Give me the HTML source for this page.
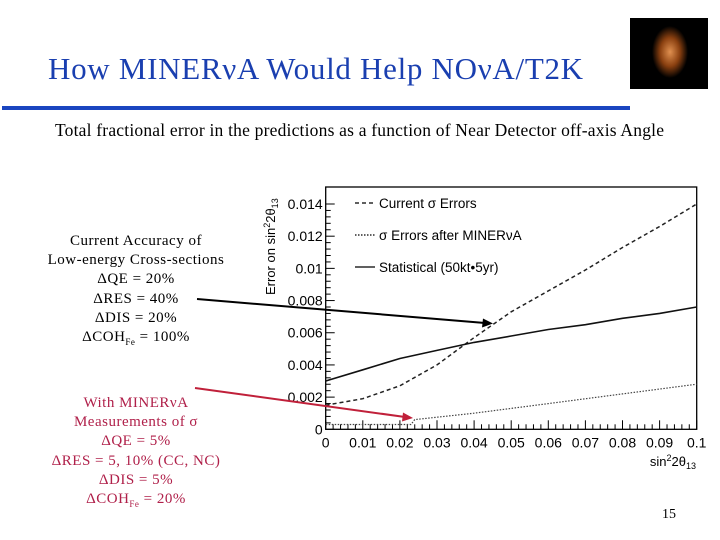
<!DOCTYPE html>
<html><head><meta charset="utf-8"><style>
body{margin:0;width:720px;height:540px;background:#fff;overflow:hidden;position:relative;font-family:"Liberation Serif",serif}
.t{position:absolute}
</style></head><body>
<div class="t" style="left:48px;top:51px;font-size:31px;letter-spacing:0.7px;color:#1a3fb0;white-space:nowrap">How MINERνA Would Help NOνA/T2K</div>
<div class="t" style="left:2px;top:106px;width:628px;height:4px;background:#1a45c0"></div>
<div class="t" style="left:630px;top:18px;width:78px;height:71px;background:radial-gradient(ellipse 18px 26px at 40px 34px,#e09050 0%,#8a4010 55%,#000 100%)"></div>
<div class="t" style="left:55px;top:120px;font-size:17.5px;letter-spacing:0.2px;white-space:nowrap">Total fractional error in the predictions as a function of Near Detector off-axis Angle</div>
<div class="t" style="left:662px;top:507px;font-size:14px">15</div>
<div class="t" style="left:26px;top:232px;width:220px;text-align:center;font-size:15px;letter-spacing:0.5px;line-height:19.2px;color:#000">Current Accuracy of<br>Low-energy Cross-sections<br>ΔQE = 20%<br>ΔRES = 40%<br>ΔDIS = 20%<br>ΔCOH<sub style="font-size:9px;line-height:0">Fe</sub> = 100%</div>
<div class="t" style="left:26px;top:394px;width:220px;text-align:center;font-size:15px;letter-spacing:0.5px;line-height:19.2px;color:#b0204a">With MINERνA<br>Measurements of σ<br>ΔQE = 5%<br>ΔRES = 5, 10% (CC, NC)<br>ΔDIS = 5%<br>ΔCOH<sub style="font-size:9px;line-height:0">Fe</sub> = 20%</div>
<svg id="chart" class="t" style="left:0;top:0" width="720" height="540"></svg>
<script>
const xVals=[0,0.01,0.02,0.03,0.04,0.05,0.06,0.07,0.08,0.09,0.1];
const currentErr=[0.0015,0.0019,0.0027,0.0040,0.0057,0.0073,0.0086,0.0099,0.0113,0.0126,0.0140];
const statErr=[0.0030,0.0037,0.0044,0.0049,0.0054,0.0058,0.0062,0.0065,0.0069,0.0072,0.0076];
const afterX=[0,0.023,0.024,0.04,0.06,0.08,0.1];
const afterErr=[0.0003,0.0003,0.0006,0.0010,0.0016,0.0022,0.0028];
const yTicks=[0,0.002,0.004,0.006,0.008,0.01,0.012,0.014];
const yLabels=["0","0.002","0.004","0.006","0.008","0.01","0.012","0.014"];
const xTicks=[0,0.01,0.02,0.03,0.04,0.05,0.06,0.07,0.08,0.09,0.1];
const xLabels=["0","0.01","0.02","0.03","0.04","0.05","0.06","0.07","0.08","0.09","0.1"];
const L=325.7,R=696.7,T=187,B=429.3;
const sx=v=>L+(v/0.1)*(R-L);
const sy=v=>B-(v/0.014)*(B-204);
const svg=document.getElementById('chart');const NS='http://www.w3.org/2000/svg';
function mk(tag,attrs,parent){const e=document.createElementNS(NS,tag);for(const k in attrs)e.setAttribute(k,attrs[k]);(parent||svg).appendChild(e);return e;}
const F='"Liberation Sans",sans-serif';
let fr=mk('rect',{x:L,y:T,width:R-L,height:B-T,fill:'none',stroke:'#000','stroke-width':1.3});


yTicks.forEach((v,i)=>{
 let tk=mk('line',{x1:L,x2:L+9,y1:sy(v),y2:sy(v),stroke:'#000'});
 
 
 if(i<yTicks.length-1)for(let j=1;j<5;j++){let m=mk('line',{x1:L,x2:L+5,y1:sy(v+j*0.0004),y2:sy(v+j*0.0004),stroke:'#000'});}
 let t=mk('text',{x:L-3,y:sy(v)+5,'text-anchor':'end','font-size':14,'font-family':F});t.textContent=yLabels[i];
 
 
});
xTicks.forEach((v,i)=>{
 let tk=mk('line',{x1:sx(v),x2:sx(v),y1:B,y2:B-9,stroke:'#000'});
 
 
 if(i<xTicks.length-1)for(let j=1;j<5;j++){let m=mk('line',{x1:sx(v+j*0.002),x2:sx(v+j*0.002),y1:B,y2:B-5,stroke:'#000'});}
 let t=mk('text',{x:sx(v),y:B+18,'text-anchor':'middle','font-size':14,'font-family':F});t.textContent=xLabels[i];
 
 
});
let xt=mk('text',{x:696,y:466,'text-anchor':'end','font-size':13,'font-family':F});xt.innerHTML='sin<tspan dy="-5" font-size="9">2</tspan><tspan dy="5">2θ</tspan><tspan dy="3" font-size="9">13</tspan>';


let yt=mk('text',{transform:'translate(275,295) rotate(-90)','font-size':13,'font-family':F});yt.innerHTML='Error on sin<tspan dy="-5" font-size="9">2</tspan><tspan dy="5">2θ</tspan><tspan dy="3" font-size="9">13</tspan>';


function path(xs,ys){return xs.map((x,i)=>(i?'L':'M')+sx(x).toFixed(1)+','+sy(ys[i]).toFixed(1)).join(' ');}
let p1=mk('path',{d:path(xVals,currentErr),fill:'none',stroke:'#222','stroke-width':1.5,'stroke-dasharray':'4,3'});


let p2=mk('path',{d:path(xVals,statErr),fill:'none',stroke:'#111','stroke-width':1.6});


let p3=mk('path',{d:path(afterX,afterErr),fill:'none',stroke:'#444','stroke-width':1.2,'stroke-dasharray':'1.5,1.5'});


const leg=[['4,3','Current σ Errors',204],['1.5,1.5','σ Errors after MINERνA',236],['','Statistical (50kt•5yr)',268]];
leg.forEach(l=>{
 let ln=mk('line',{x1:355,x2:375,y1:l[2]-1,y2:l[2]-1,stroke:'#000','stroke-width':1.2,'stroke-dasharray':l[0]||'none'});
 
 
 let t=mk('text',{x:379,y:l[2]+4,'font-size':13.5,'font-family':F});t.textContent=l[1];
 
 
});
let a1=mk('line',{x1:197,y1:299,x2:485,y2:323,stroke:'#000','stroke-width':2});


let h1=mk('polygon',{points:'493,323.5 483,318.5 482,327.5',fill:'#000'});


let a2=mk('line',{x1:195,y1:388,x2:405,y2:417,stroke:'#c0203a','stroke-width':2});


let h2=mk('polygon',{points:'413,418 403,412.5 402,421.5',fill:'#c0203a'});


</script>
</body></html>
